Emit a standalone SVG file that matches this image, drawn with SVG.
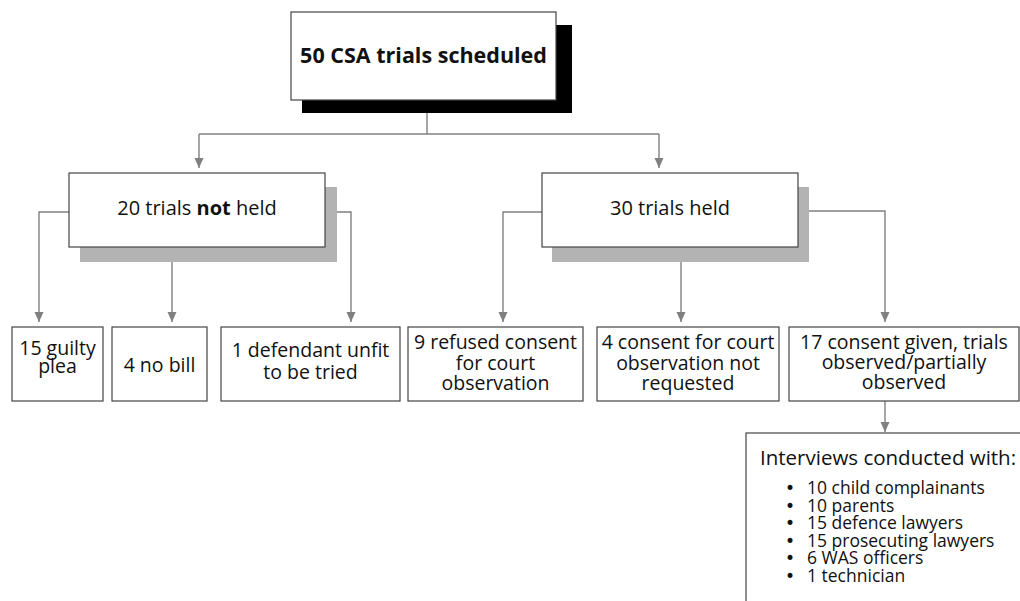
<svg xmlns="http://www.w3.org/2000/svg" width="1020" height="601" viewBox="0 0 1020 601">
<defs>
<style>
.box{fill:#fff;stroke:#444;stroke-width:1.2}
.sh{fill:#b3b3b3}
.t{font-family:"Open Sans","DejaVu Sans",sans-serif;fill:#111;text-anchor:middle}
.s{text-anchor:start}
.m{font-size:20px}
.b{font-size:19.5px}
.li{font-size:17.5px}
.bu{font-family:"DejaVu Sans",sans-serif;font-size:17px}
.c{fill:none;stroke:#808080;stroke-width:1.4}
</style>
<marker id="ah" viewBox="0 0 10 10" refX="10" refY="5" markerWidth="10" markerHeight="10" markerUnits="userSpaceOnUse" orient="auto">
<path d="M0,0.5 L10,5 L0,9.5 Z" fill="#808080"/>
</marker>
</defs>
<rect width="1020" height="601" fill="#fff"/>

<g id="connectors">
<polyline class="c" points="427,113 427,134"/>
<polyline class="c" points="199,134 659,134"/>
<polyline class="c" points="199,134 199,168" marker-end="url(#ah)"/>
<polyline class="c" points="659,134 659,168" marker-end="url(#ah)"/>
<polyline class="c" points="69,212 39,212 39,322" marker-end="url(#ah)"/>
<polyline class="c" points="172,262 172,322" marker-end="url(#ah)"/>
<polyline class="c" points="337,212 351,212 351,322" marker-end="url(#ah)"/>
<polyline class="c" points="542,212 503,212 503,322" marker-end="url(#ah)"/>
<polyline class="c" points="681,262 681,322" marker-end="url(#ah)"/>
<polyline class="c" points="809,211 885,211 885,322" marker-end="url(#ah)"/>
<polyline class="c" points="885,401 885,432" marker-end="url(#ah)"/>
</g>

<g id="scheduled">
<rect x="302" y="25" width="270" height="88" fill="#000"/>
<rect class="box" x="291" y="12" width="265" height="88"/>
<text class="t" x="423.5" y="63" font-size="21.5" font-weight="bold">50 CSA trials scheduled</text>
</g>

<g id="not-held">
<rect class="sh" x="80" y="187" width="257" height="75"/>
<rect class="box" x="69" y="173" width="256" height="74"/>
<text class="t m" x="197" y="215">20 trials <tspan font-weight="bold">not</tspan> held</text>
</g>

<g id="held">
<rect class="sh" x="552" y="187" width="257" height="75"/>
<rect class="box" x="542" y="173" width="256" height="74"/>
<text class="t m" x="670" y="215">30 trials held</text>
</g>

<g id="guilty">
<rect class="box" x="12" y="327" width="91" height="74"/>
<text class="t b" x="57.5" y="355">15 guilty<tspan x="57.5" dy="18">plea</tspan></text>
</g>

<g id="nobill">
<rect class="box" x="112" y="327" width="95" height="74"/>
<text class="t b" x="159.5" y="372">4 no bill</text>
</g>

<g id="unfit">
<rect class="box" x="221" y="327" width="179" height="74"/>
<text class="t b" x="310.5" y="357">1 defendant unfit<tspan x="310.5" dy="22">to be tried</tspan></text>
</g>

<g id="refused">
<rect class="box" x="408" y="327" width="175" height="74"/>
<text class="t b" x="495.5" y="349">9 refused consent<tspan x="495.5" dy="20.5">for court</tspan><tspan x="495.5" dy="20.5">observation</tspan></text>
</g>

<g id="not-requested">
<rect class="box" x="597" y="327" width="182" height="74"/>
<text class="t b" x="688" y="349">4 consent for court<tspan x="688" dy="20.5">observation not</tspan><tspan x="688" dy="20.5">requested</tspan></text>
</g>

<g id="consent-given">
<rect class="box" x="789" y="327" width="230" height="74"/>
<text class="t b" x="904" y="349">17 consent given, trials<tspan x="904" dy="20">observed/partially</tspan><tspan x="904" dy="20">observed</tspan></text>
</g>

<g id="interviews">
<rect class="box" x="746" y="433" width="290" height="190"/>
<text class="t s" x="760" y="465" font-size="20.5">Interviews conducted with:</text>
<text class="t s li" x="785" y="494"><tspan class="bu">•</tspan><tspan x="807">10 child complainants</tspan></text>
<text class="t s li" x="785" y="511.6"><tspan class="bu">•</tspan><tspan x="807">10 parents</tspan></text>
<text class="t s li" x="785" y="529.2"><tspan class="bu">•</tspan><tspan x="807">15 defence lawyers</tspan></text>
<text class="t s li" x="785" y="546.8"><tspan class="bu">•</tspan><tspan x="807">15 prosecuting lawyers</tspan></text>
<text class="t s li" x="785" y="564.4"><tspan class="bu">•</tspan><tspan x="807">6 WAS officers</tspan></text>
<text class="t s li" x="785" y="582"><tspan class="bu">•</tspan><tspan x="807">1 technician</tspan></text>
</g>
</svg>
